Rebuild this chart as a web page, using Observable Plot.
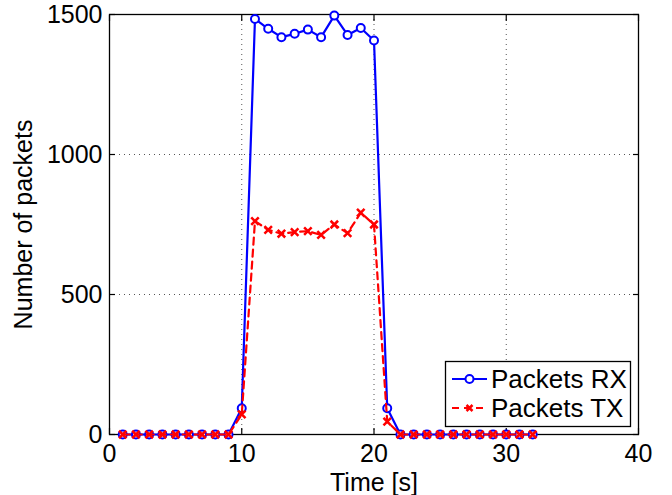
<!DOCTYPE html>
<html><head><meta charset="utf-8">
<script src="https://cdn.jsdelivr.net/npm/d3@7"></script>
<script src="https://cdn.jsdelivr.net/npm/@observablehq/plot@0.6"></script>
<style>
body{margin:0;background:#fff;}
#wrap{position:relative;width:672px;height:495px;}
#legend{position:absolute;left:0;top:0;pointer-events:none;}
</style>
</head><body><div id="wrap"></div>
<script>
const time = [1,2,3,4,5,6,7,8,9,10,11,12,13,14,15,16,17,18,19,20,21,22,23,24,25,26,27,28,29,30,31,32];
const packetsRX = [0,0,0,0,0,0,0,0,0,94,1484,1449,1419,1431,1446,1419,1496,1427,1452,1407,94,0,0,0,0,0,0,0,0,0,0,0];
const packetsTX = [0,0,0,0,0,0,0,0,0,72,762,731,717,723,726,713,750,719,792,750,46,0,0,0,0,0,0,0,0,0,0,0];
const seriesNames = ["Packets RX", "Packets TX"];
const xTicks = [0,10,20,30,40];
const yTicks = [0,500,1000,1500];
const xGrid = [10,20,30];
const yGrid = [500,1000];

const rx = time.map((t,i)=>({t, v: packetsRX[i]}));
const tx = time.map((t,i)=>({t, v: packetsTX[i]}));

const font = "'Liberation Sans', Arial, Helvetica, sans-serif";
const fmt = d => String(d);
const chart = Plot.plot({
  width: 672, height: 495,
  marginLeft: 109, marginRight: 34, marginTop: 14, marginBottom: 61,
  style: {fontFamily: font, fontSize: "25px", color: "#000", background: "#fff"},
  x: {domain: [0, 40]},
  y: {domain: [0, 1500]},
  marks: [
    Plot.gridX(xGrid, {stroke: "#555", strokeOpacity: 1, strokeWidth: 1, strokeDasharray: "1,4"}),
    Plot.gridY(yGrid, {stroke: "#555", strokeOpacity: 1, strokeWidth: 1, strokeDasharray: "1,4"}),
    Plot.axisX(xTicks, {anchor: "bottom", tickSize: 0, tickPadding: 10, tickFormat: fmt, label: "Time [s]", labelAnchor: "center", labelOffset: 56, labelArrow: "none"}),
    Plot.axisY(yTicks, {anchor: "left", tickSize: 0, tickPadding: 7, tickFormat: fmt, label: "Number of packets", labelAnchor: "center", labelOffset: 95, labelArrow: "none"}),
    Plot.axisX(xTicks, {anchor: "bottom", tickSize: -6, text: null, label: null, strokeWidth: 1.2}),
    Plot.axisX(xTicks, {anchor: "top", tickSize: -6, text: null, label: null, strokeWidth: 1.2}),
    Plot.axisY(yTicks, {anchor: "left", tickSize: -6, text: null, label: null, strokeWidth: 1.2}),
    Plot.axisY(yTicks, {anchor: "right", tickSize: -6, text: null, label: null, strokeWidth: 1.2}),
    Plot.frame({stroke: "#000", strokeWidth: 1.3}),
    Plot.line(rx, {x: "t", y: "v", stroke: "#0000ff", strokeWidth: 2.2}),
    Plot.dot(rx, {x: "t", y: "v", r: 4, stroke: "#0000ff", fill: "#fff", strokeWidth: 2}),
    Plot.line(tx, {x: "t", y: "v", stroke: "#ff0000", strokeWidth: 2.2, strokeDasharray: "7,5"}),
    Plot.dot(tx, {x: "t", y: "v", r: 3.5, symbol: "times", stroke: "#ff0000", strokeWidth: 2.5})
  ]
});
const wrap = document.getElementById("wrap");
wrap.appendChild(chart);

// legend overlay
const svg = d3.select(wrap).append("svg").attr("id", "legend")
  .attr("width", 672).attr("height", 495);
svg.append("rect").attr("x", 445.5).attr("y", 361.5).attr("width", 185).attr("height", 65)
  .attr("fill", "#fff").attr("stroke", "#000").attr("stroke-width", 1.3);
const entries = [
  {name: seriesNames[0], color: "#0000ff", dash: null, marker: "circle", y: 379},
  {name: seriesNames[1], color: "#ff0000", dash: "7,5", marker: "times", y: 408}
];
entries.forEach(e => {
  svg.append("line").attr("x1", 452).attr("x2", 487).attr("y1", e.y).attr("y2", e.y)
    .attr("stroke", e.color).attr("stroke-width", 2.2).attr("stroke-dasharray", e.dash);
  if (e.marker === "circle") {
    svg.append("circle").attr("cx", 469.5).attr("cy", e.y).attr("r", 4)
      .attr("fill", "#fff").attr("stroke", e.color).attr("stroke-width", 2);
  } else {
    svg.append("path").attr("d", `M${466.5},${e.y-3}L${472.5},${e.y+3}M${466.5},${e.y+3}L${472.5},${e.y-3}`)
      .attr("stroke", e.color).attr("stroke-width", 2.5);
  }
  svg.append("text").attr("x", 491).attr("y", e.y + 9).attr("font-family", font)
    .attr("font-size", 26).attr("fill", "#000").text(e.name);
});
</script>
</body></html>
